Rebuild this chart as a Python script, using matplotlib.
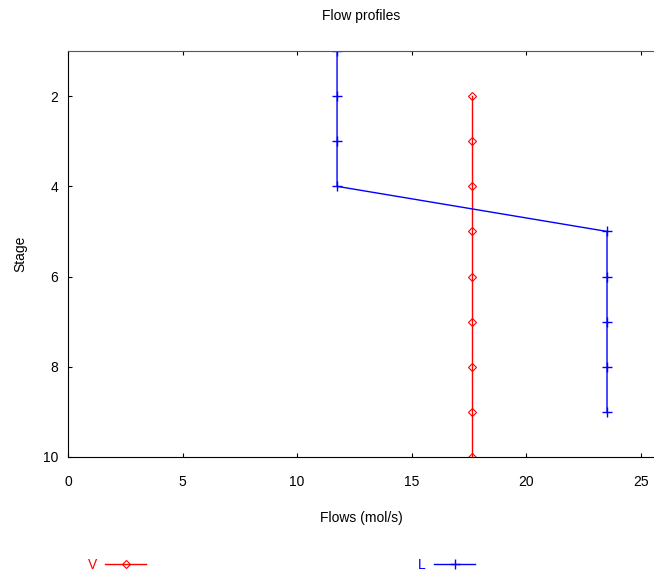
import matplotlib
matplotlib.use("Agg")
import matplotlib.pyplot as plt

# stage profiles
stages_v = [2, 3, 4, 5, 6, 7, 8, 9, 10]
flow_v = [17.63, 17.63, 17.63, 17.63, 17.63, 17.63, 17.63, 17.63, 17.63]
stages_l = [1, 2, 3, 4, 5, 6, 7, 8, 9]
flow_l = [11.74, 11.74, 11.74, 11.74, 23.52, 23.52, 23.52, 23.52, 23.52]
xticks = [0, 5, 10, 15, 20, 25]
yticks = [2, 4, 6, 8, 10]

plt.rcParams["font.family"] = ["Liberation Sans", "DejaVu Sans"]
plt.rcParams["font.size"] = 10

fig = plt.figure(figsize=(6.54, 5.73), dpi=100)
ax = fig.add_axes([68 / 654, 1 - 457 / 573, 1 - 68 / 654, (457 - 51) / 573])

ax.plot(flow_v, stages_v, color="red", lw=1, marker="D", ms=4,
        mfc="none", mew=0.8, label="V")
ax.plot(flow_l, stages_l, color="blue", lw=1, marker="+", ms=6.5,
        mew=1, label="L")

ax.set_xlim(0, 25.57)
ax.set_ylim(10, 1)
ax.set_xticks(xticks)
ax.set_yticks(yticks)
ax.tick_params(direction="in", length=3, width=0.8, top=True, colors="black",
               labelsize=10)
ax.tick_params(axis="x", pad=13)
ax.tick_params(axis="y", pad=7)
ax.spines["right"].set_visible(False)
ax.spines["top"].set_color("#555555")
ax.set_title("Flow profiles", fontsize=10, pad=22)
ax.set_xlabel("Flows (mol/s)", fontsize=10, labelpad=16)
ax.set_ylabel("Stage", fontsize=10, labelpad=11)

leg = fig.legend(loc="center left", bbox_to_anchor=(75 / 654, 1 - 565 / 573),
                 ncol=2, frameon=False, markerfirst=False,
                 labelcolor="linecolor", columnspacing=19.6,
                 handlelength=2.95, handletextpad=0.6, fontsize=10)

fig.savefig("out.png", dpi=100)
